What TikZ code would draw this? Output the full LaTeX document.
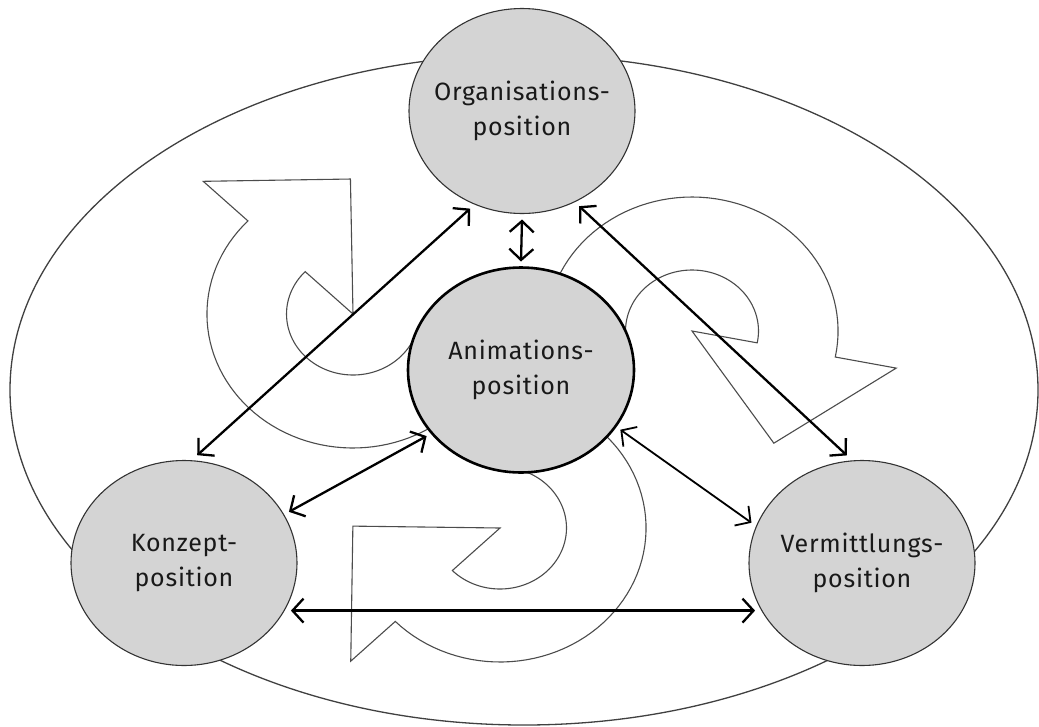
\documentclass[tikz,border=0pt]{standalone}
\usepackage{fontspec}
\setmainfont{Fira Sans}[LetterSpace=3]
\usetikzlibrary{shapes.geometric,arrows.meta}

\tikzset{
  posn/.style={ellipse, draw=black!80, line width=1.1pt, fill=black!17,
    minimum width=226pt, minimum height=205pt, inner sep=0pt, outer sep=6pt},
  postext/.style={align=center, font=\fontsize{25}{35}\selectfont, text=black!90},
  link/.style={{Straight Barb[length=11pt,width=24pt]}-{Straight Barb[length=11pt,width=24pt]}, line width=2.3pt},
  swirl/.style={draw=black!70, line width=1.1pt, fill=white},
}

\begin{document}
\begin{tikzpicture}[x=1pt,y=-1pt]
\useasboundingbox (0,0) rectangle (1039,726);
% outer frame
\draw[black!75, line width=1.3pt] (524,390) ellipse [x radius=514, y radius=335];

% the three turning arrows: centre x/y, start angle, end angle
\foreach \cx/\cy/\sa/\ea in {353/314/20/224, 692/331/160/371.2, 500/528/-80/135.8}{
  \begin{scope}[shift={(\cx,\cy)}, xscale=1.09]
    \draw[swirl] (\sa:61) -- (\sa:134)
      -- plot[domain=\sa:\ea, samples=70] (\x:134)
      -- (\ea:191) -- ({\ea+45}:135) -- (0,0) -- (\ea:61)
      -- plot[domain=\ea:\sa, samples=70] (\x:61) -- cycle;
  \end{scope}
}

\node[posn, label={[postext]center:Organisations-\\position}] (org) at (522,111) {};
\node[posn, draw=black, line width=2.6pt, label={[postext]center:Animations-\\position}] (anim) at (521,370) {};
\node[posn, label={[postext]center:Konzept-\\position}] (konz) at (184,563) {};
\node[posn, label={[postext]center:Vermittlungs-\\position}] (verm) at (862,563) {};

\draw[link] (org.south) -- (anim.north);
\draw[link] (org.242) -- (konz.83);
\draw[link] (org.301) -- (verm.98);
\draw[link] (anim.215) -- (konz.26);
\draw[link, line width=1.8pt] (anim.329) -- (verm.160);
\draw[link] (konz.336) -- (verm.204);
\end{tikzpicture}
\end{document}
